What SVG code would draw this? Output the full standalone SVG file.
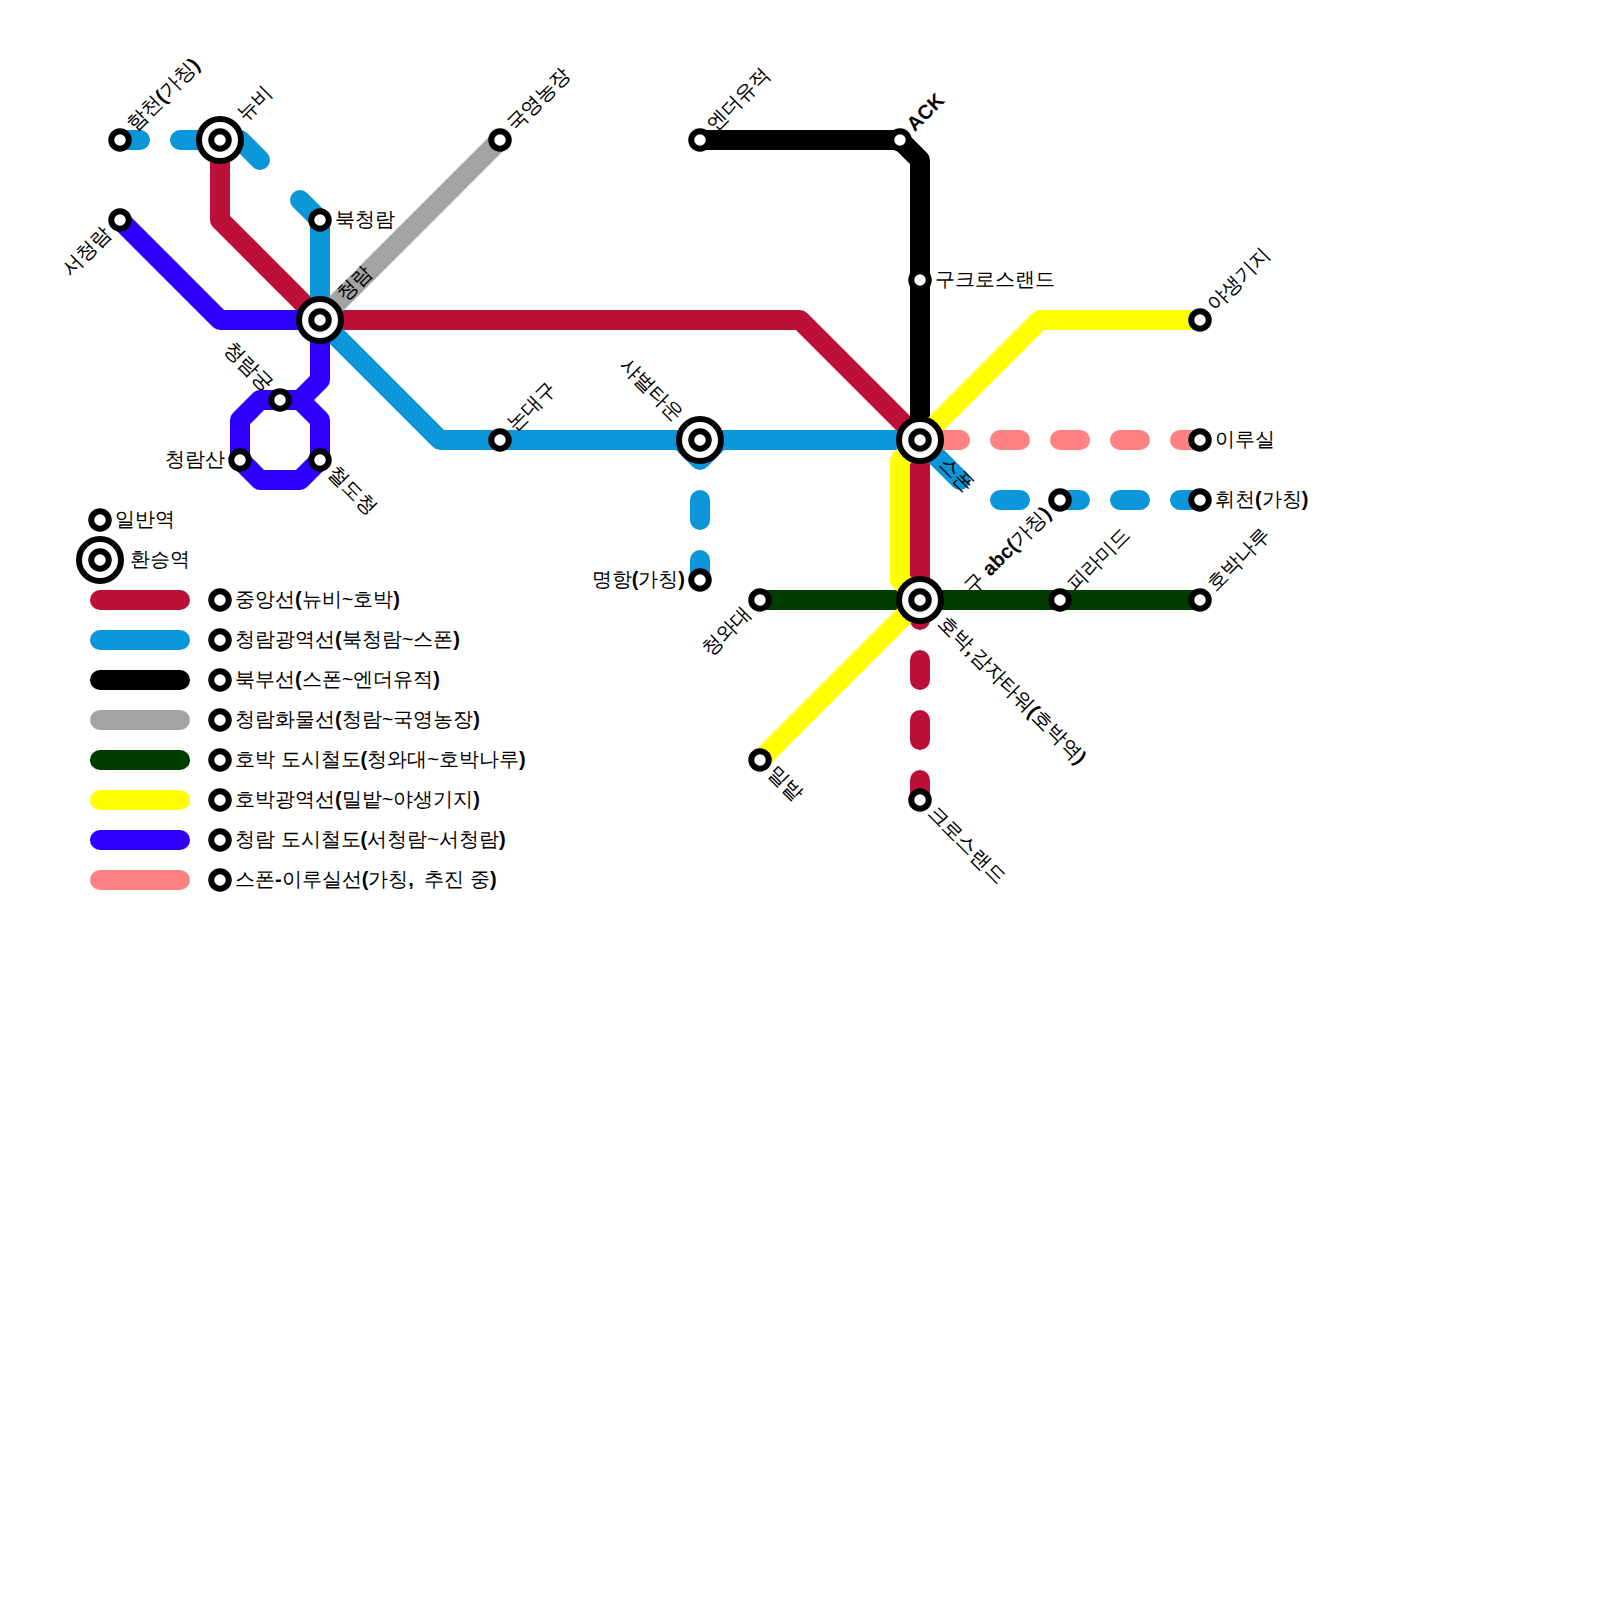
<svg xmlns="http://www.w3.org/2000/svg" width="1600" height="1600" viewBox="0 0 1600 1600">
<style>
.l{fill:none;stroke-width:20;stroke-linecap:round;stroke-linejoin:round}
.red{stroke:#bd1038}.blue{stroke:#0a96d8}.black{stroke:#000}.gray{stroke:#a3a3a3}.green{stroke:#003d00}.yellow{stroke:#ffff00}.purple{stroke:#2e00ff}.pink{stroke:#ff8282}
.s{fill:#fff;stroke:#000;stroke-width:6}
.t{font-family:"Liberation Sans",sans-serif;font-size:20px;fill:#000;font-weight:400}
.b{font-weight:700}
.e{text-anchor:end}
</style>
<defs>
<g id="st"><circle class="s" r="8.75"/></g>
<g id="ix"><circle class="s" r="21"/><circle class="s" r="8.75"/></g>
</defs>
<g id="connectors">
<path class="l red" d="M220 140V220L320 320H800L920 440V620M920 660V680M920 720V740M920 780V800"/>
<path class="l blue" d="M120 140H140M180 140H240L260 160M300 200L320 220V320L440 440H920L960 480M680 440L700 460L720 440M700 500V520M700 560V580M1000 500H1020M1060 500H1080M1120 500H1140M1180 500H1200"/>
<path class="l black" d="M700 140H900L920 160V440"/>
<path class="l gray" d="M320 320L500 140"/>
<path class="l green" d="M760 600H1200"/>
<path class="l yellow" d="M760 760L920 600L900 580V460L920 440L1040 320H1200"/>
<path class="l purple" d="M120 220L220 320H320V380L300 400H260L240 420V460L260 480H300L320 460V420L300 400"/>
<path class="l pink" d="M920 440H960M1000 440H1020M1060 440H1080M1120 440H1140M1180 440H1200"/>
</g>
<g id="legend-lines">
<path class="l red" d="M100 600H180"/>
<path class="l blue" d="M100 640H180"/>
<path class="l black" d="M100 680H180"/>
<path class="l gray" d="M100 720H180"/>
<path class="l green" d="M100 760H180"/>
<path class="l yellow" d="M100 800H180"/>
<path class="l purple" d="M100 840H180"/>
<path class="l pink" d="M100 880H180"/>
</g>
<g id="n-hamcheon" transform="translate(120 140)"><use href="#st"/><text class="t" transform="rotate(-45)" x="16" y="5">함천<tspan class="b">(</tspan>가칭<tspan class="b">)</tspan></text></g>
<g id="n-nubi" transform="translate(220 140)"><use href="#ix"/><text class="t" transform="rotate(-45)" x="30" y="5">뉴비</text></g>
<g id="n-seocheongnam" transform="translate(120 220)"><use href="#st"/><text class="t e" transform="rotate(-45)" x="-16" y="5">서청람</text></g>
<g id="n-bukcheongnam" transform="translate(320 220)"><use href="#st"/><text class="t" x="15" y="6">북청람</text></g>
<g id="n-cheongnam" transform="translate(320 320)"><use href="#ix"/><text class="t" transform="rotate(-45)" x="30" y="5">청람</text></g>
<g id="n-gukyeong" transform="translate(500 140)"><use href="#st"/><text class="t" transform="rotate(-45)" x="16" y="5">국영농장</text></g>
<g id="n-ender" transform="translate(700 140)"><use href="#st"/><text class="t" transform="rotate(-45)" x="16" y="5">엔더유적</text></g>
<g id="n-ack" transform="translate(900 140)"><use href="#st"/><text class="t b" transform="rotate(-45)" x="16" y="5">ACK</text></g>
<g id="n-gucross" transform="translate(920 280)"><use href="#st"/><text class="t" x="15" y="6">구크로스랜드</text></g>
<g id="n-yasaeng" transform="translate(1200 320)"><use href="#st"/><text class="t" transform="rotate(-45)" x="16" y="5">야생기지</text></g>
<g id="n-spawn" transform="translate(920 440)"><use href="#ix"/><text class="t" transform="rotate(45)" x="30" y="5">스폰</text></g>
<g id="n-irusil" transform="translate(1200 440)"><use href="#st"/><text class="t" x="15" y="6">이루실</text></g>
<g id="n-hwicheon" transform="translate(1200 500)"><use href="#st"/><text class="t" x="15" y="6">휘천<tspan class="b">(</tspan>가칭<tspan class="b">)</tspan></text></g>
<g id="n-guabc" transform="translate(1060 500)"><use href="#st"/><text class="t e" transform="rotate(-45)" x="-16" y="5">구 <tspan class="b">abc(</tspan>가칭<tspan class="b">)</tspan></text></g>
<g id="n-pyramid" transform="translate(1060 600)"><use href="#st"/><text class="t" transform="rotate(-45)" x="16" y="5">피라미드</text></g>
<g id="n-hobaknaru" transform="translate(1200 600)"><use href="#st"/><text class="t" transform="rotate(-45)" x="16" y="5">호박나루</text></g>
<g id="n-hobak" transform="translate(920 600)"><use href="#ix"/><text class="t" transform="rotate(45)" x="29" y="5">호박<tspan class="b">,</tspan><tspan dx="1">감자타워</tspan><tspan class="b">(</tspan>호박역<tspan class="b">)</tspan></text></g>
<g id="n-cheongwadae" transform="translate(760 600)"><use href="#st"/><text class="t e" transform="rotate(-45)" x="-16" y="5">청와대</text></g>
<g id="n-milbat" transform="translate(760 760)"><use href="#st"/><text class="t" transform="rotate(45)" x="15" y="5">밀밭</text></g>
<g id="n-crossland" transform="translate(920 800)"><use href="#st"/><text class="t" transform="rotate(45)" x="15" y="5">크로스랜드</text></g>
<g id="n-myeonghang" transform="translate(700 580)"><use href="#st"/><text class="t e" x="-15" y="6">명항<tspan class="b">(</tspan>가칭<tspan class="b">)</tspan></text></g>
<g id="n-sabeol" transform="translate(700 440)"><use href="#ix"/><text class="t e" transform="rotate(45)" x="-30" y="5">샤벌타운</text></g>
<g id="n-nondaegu" transform="translate(500 440)"><use href="#st"/><text class="t" transform="rotate(-45)" x="16" y="5">논대구</text></g>
<g id="n-cheongnamgung" transform="translate(280 400)"><use href="#st"/><text class="t e" transform="rotate(45)" x="-16" y="5">청람궁</text></g>
<g id="n-cheongnamsan" transform="translate(240 460)"><use href="#st"/><text class="t e" x="-15" y="6">청람산</text></g>
<g id="n-cheoldocheong" transform="translate(320 460)"><use href="#st"/><text class="t" transform="rotate(45)" x="15" y="5">철도청</text></g>
<g id="legend-stations">
<g transform="translate(100 520)"><use href="#st"/><text class="t" x="15" y="6">일반역</text></g>
<g transform="translate(100 560)"><use href="#ix"/><text class="t" x="30" y="6">환승역</text></g>
<g transform="translate(220 600)"><use href="#st"/><text class="t" x="15" y="6">중앙선<tspan class="b">(</tspan>뉴비~호박<tspan class="b">)</tspan></text></g>
<g transform="translate(220 640)"><use href="#st"/><text class="t" x="15" y="6">청람광역선<tspan class="b">(</tspan>북청람~스폰<tspan class="b">)</tspan></text></g>
<g transform="translate(220 680)"><use href="#st"/><text class="t" x="15" y="6">북부선<tspan class="b">(</tspan>스폰~엔더유적<tspan class="b">)</tspan></text></g>
<g transform="translate(220 720)"><use href="#st"/><text class="t" x="15" y="6">청람화물선<tspan class="b">(</tspan>청람~국영농장<tspan class="b">)</tspan></text></g>
<g transform="translate(220 760)"><use href="#st"/><text class="t" x="15" y="6">호박 도시철도<tspan class="b">(</tspan>청와대~호박나루<tspan class="b">)</tspan></text></g>
<g transform="translate(220 800)"><use href="#st"/><text class="t" x="15" y="6">호박광역선<tspan class="b">(</tspan>밀밭~야생기지<tspan class="b">)</tspan></text></g>
<g transform="translate(220 840)"><use href="#st"/><text class="t" x="15" y="6">청람 도시철도<tspan class="b">(</tspan>서청람~서청람<tspan class="b">)</tspan></text></g>
<g transform="translate(220 880)"><use href="#st"/><text class="t" x="15" y="6">스폰<tspan class="b">-</tspan>이루실선<tspan class="b">(</tspan>가칭<tspan class="b">,</tspan><tspan dx="5"> 추진 중</tspan><tspan class="b">)</tspan></text></g>
</g>
</svg>
